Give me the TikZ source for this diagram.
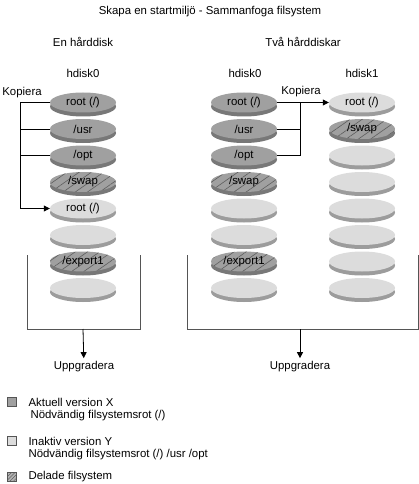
\documentclass[tikz,border=0pt]{standalone}
\usepackage{fontspec}
\setmainfont{Liberation Sans}
\usetikzlibrary{shapes.geometric,shadows,patterns.meta,arrows.meta}
\definecolor{cur}{HTML}{A0A0A0}
\definecolor{curedge}{HTML}{787878}
\definecolor{inact}{HTML}{DCDCDC}
\definecolor{inactedge}{HTML}{9C9C9C}
\definecolor{hatch}{HTML}{5E5E5E}
\definecolor{frame}{HTML}{555555}
\tikzset{disk/.style={ellipse,minimum width=66pt,minimum height=20pt,inner sep=0pt},
  current/.style={disk,fill=cur,general shadow={shadow yshift=-4pt,fill=curedge}},
  inactive/.style={disk,fill=inact,general shadow={shadow yshift=-4pt,fill=inactedge}},
  shared/.style={current,pattern color=hatch,
    postaction={pattern={Lines[angle=35,distance=7pt,line width=.6pt]}}},
  keybox/.style={draw=frame,minimum size=9pt,inner sep=0pt},
  tip/.style={line width=.8pt,-{Triangle[length=6pt,width=6pt]}},
  link/.style={line width=.8pt}
}

\begin{document}
\begin{tikzpicture}[x=1pt,y=-1pt,font=\fontsize{11.4}{13}\selectfont]
  \useasboundingbox (0,0) rectangle (419,484);
  \path (210,12) node (title) {Skapa en startmiljö - Sammanfoga filsystem}
        (83,42) node (one) {En hårddisk}
        (303,42) node (two) {Två hårddiskar}
        (83,73) node (hda) {hdisk0}
        (245,73) node (hdb) {hdisk0}
        (362,73) node (hdc) {hdisk1};
  % en hårddisk
  \path (83,102.5) node[current] (a0) {root (/)}
        (83,129) node[current] (a1) {/usr}
        (83,155.5) node[current] (a2) {/opt}
        (83,182) node[shared] (a3) {/swap}
        (83,208.5) node[inactive] (a4) {root (/)}
        (83,235) node[inactive] (a5) {}
        (83,261.5) node[shared] (a6) {/export1}
        (83,288) node[inactive] (a7) {};
  % två hårddiskar
  \path (244,102.5) node[current] (b0) {root (/)}
        (244,129) node[current] (b1) {/usr}
        (244,155.5) node[current] (b2) {/opt}
        (244,182) node[shared] (b3) {/swap}
        (244,208.5) node[inactive] (b4) {}
        (244,235) node[inactive] (b5) {}
        (244,261.5) node[shared] (b6) {/export1}
        (244,288) node[inactive] (b7) {};
  \path (362,102.5) node[inactive] (c0) {root (/)}
        (362,129) node[shared] (c1) {/swap}
        (362,155.5) node[inactive] (c2) {}
        (362,182) node[inactive] (c3) {}
        (362,208.5) node[inactive] (c4) {}
        (362,235) node[inactive] (c5) {}
        (362,261.5) node[inactive] (c6) {}
        (362,288) node[inactive] (c7) {};
  % kopiera
  \node (kopa) at (22,93) {Kopiera};
  \node (kopb) at (301,92) {Kopiera};
  \draw[tip] (a0.west) -- ++(-29,0) |- (a4.west);
  \draw[link] (a1.west) -- ++(-29,0);
  \draw[link] (a2.west) -- ++(-29,0);
  \coordinate (bj) at (300,102.5);
  \draw[tip] (b0.east) -- (c0.west);
  \draw[link] (b2.east) -| (bj);
  \draw[link] (b1.east) -- (b1.east -| bj);
  % uppgradera
  \node (upa) at (84,367) {Uppgradera};
  \node (upb) at (300,367) {Uppgradera};
  \coordinate (fa) at (27,255);
  \coordinate (fb) at (187,255);
  \draw[frame,line width=.7pt] (fa) |- (140,329) -- (140,255);
  \draw[frame,line width=.7pt] (fb) |- (418,329) -- (418,255);
  \draw[tip] (83,329) -- (upa);
  \draw[tip] (300,329) -- (upb);
  % legend
  \node[keybox,fill=cur] (k1) at (12,402) {};
  \node[keybox,fill=inact] (k2) at (12,441) {};
  \node[keybox,fill=cur!80,pattern color=hatch,
    postaction={pattern={Lines[angle=45,distance=2.5pt,line width=.5pt]}}] (k3) at (12,477) {};
  \node[anchor=west] (t1) at (25,402) {Aktuell version X};
  \node[anchor=west] (t1b) at (27,416) {Nödvändig filsystemsrot (/)};
  \node[anchor=west] (t2) at (25,441) {Inaktiv version Y};
  \node[anchor=west] (t2b) at (25,455) {Nödvändig filsystemsrot (/) /usr /opt};
  \node[anchor=west] (t3) at (25,477) {Delade filsystem};
\end{tikzpicture}
\end{document}
